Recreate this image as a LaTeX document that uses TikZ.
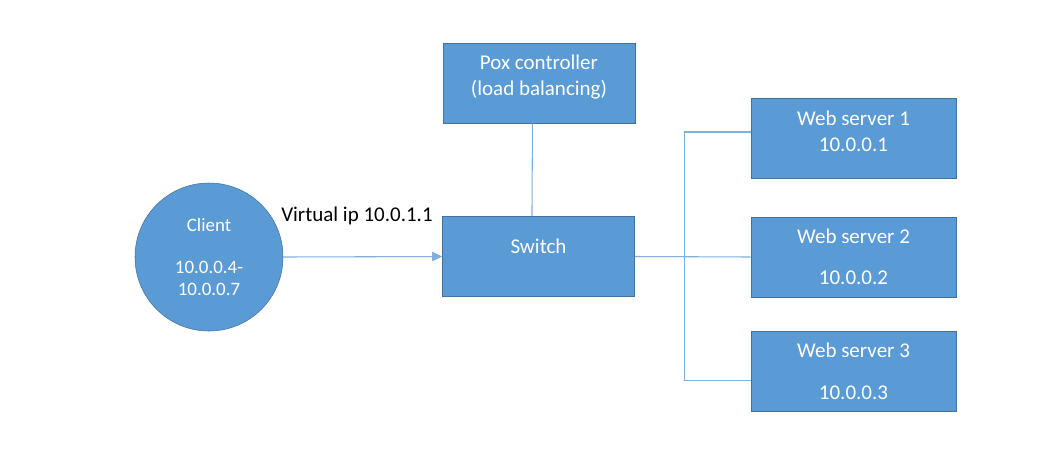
\documentclass[tikz,border=0pt]{standalone}
\usepackage{fontspec}
\setmainfont{Carlito}
\usetikzlibrary{arrows.meta,positioning,shapes.geometric}
\definecolor{boxBlue}{HTML}{5B9BD5}
\definecolor{boxEdge}{HTML}{41719C}
\definecolor{wireBlue}{HTML}{7FB0DE}

\tikzset{
  netbox/.style={draw=boxEdge, fill=boxBlue, text=white, align=center,
    minimum width=144pt, minimum height=60pt, inner sep=2pt,
    font=\fontsize{15.75}{19.5}\selectfont},
  srvbox/.style={netbox, minimum width=153.75pt},
  hostcircle/.style={circle, draw=boxEdge, fill=boxBlue, text=white, align=center,
    minimum size=111pt, inner sep=0pt, font=\fontsize{14.2}{16.5}\selectfont},
  wire/.style={draw=wireBlue, line width=0.8pt}
}

\begin{document}
\begin{tikzpicture}[x=0.75pt, y=-0.75pt]
  % canvas in pixel units, y running downwards
  \fill[white] (0,0) rectangle (1057,462);
  \useasboundingbox (0,0) rectangle (1057,462);

  % controller and switch
  \node[netbox] (pox) at (539,83) {Pox controller\\(load balancing)\\[-8pt]\mbox{}};
  \node[netbox] (switch) at (538.5,256.5) {Switch\\[-4pt]\mbox{}};

  % client host
  \node[hostcircle] (client) at (209,257) {Client\\[15pt]10.0.0.4-\\10.0.0.7};
  \node[font=\fontsize{15.75}{19.5}\selectfont] (vip) at (357,216) {Virtual ip 10.0.1.1};

  % web servers
  \node[srvbox] (web1) at (853.5,138) {Web server 1\\10.0.0.1\\[-10pt]\mbox{}};
  \node[srvbox] (web2) at (853.5,257) {Web server 2\\[11pt]10.0.0.2};
  \node[srvbox] (web3) at (853.5,371.5) {Web server 3\\[12pt]10.0.0.3};

  % links
  \draw[wire, -{Triangle[length=7.5pt,width=7pt]}] (client.east) -- (switch.west);
  \draw[wire] ([xshift=-4.9pt]pox.south) -- ([xshift=-4.9pt]switch.north);
  \draw[wire] (switch.east) -- (web2.west);
  \draw[wire] ([yshift=4.5pt]web1.west) -- ++(-66,0) |- ([yshift=-6.4pt]web3.west);
\end{tikzpicture}
\end{document}
